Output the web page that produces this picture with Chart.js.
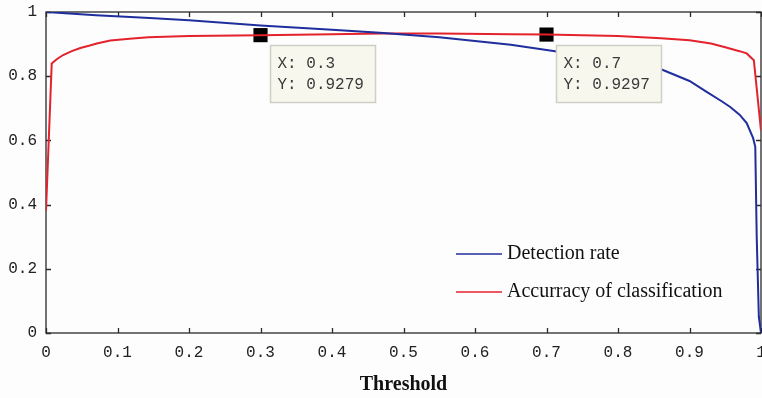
<!DOCTYPE html>
<html>
<head>
<meta charset="utf-8">
<script src="https://cdn.jsdelivr.net/npm/chart.js@4.4.1/dist/chart.umd.min.js"></script>
<style>
  html, body { margin: 0; padding: 0; background: #fdfdfd; }
  #chart { display: block; }
</style>
</head>
<body>
<canvas id="chart" width="762" height="398"></canvas>
<script>
// ---------------------------------------------------------------------------
// Data
// ---------------------------------------------------------------------------
const detectX = [0, 0.07, 0.145, 0.2, 0.3, 0.4, 0.467, 0.55, 0.65, 0.712, 0.76, 0.8, 0.862, 0.9, 0.924, 0.945, 0.957, 0.97, 0.98, 0.989, 0.992, 0.994, 0.997, 1];
const detectY = [1, 0.99, 0.981, 0.974, 0.958, 0.945, 0.935, 0.921, 0.898, 0.878, 0.862, 0.848, 0.82, 0.785, 0.751, 0.722, 0.704, 0.68, 0.654, 0.607, 0.58, 0.3, 0.05, 0];

const accX = [0, 0.008, 0.015, 0.024, 0.036, 0.048, 0.06, 0.071, 0.09, 0.117, 0.143, 0.2, 0.3, 0.4, 0.47, 0.55, 0.65, 0.7, 0.8, 0.86, 0.9, 0.93, 0.95, 0.97, 0.98, 0.99, 1];
const accY = [0.38, 0.84, 0.853, 0.866, 0.878, 0.888, 0.895, 0.902, 0.911, 0.917, 0.921, 0.925, 0.9279, 0.931, 0.933, 0.933, 0.931, 0.9297, 0.925, 0.918, 0.912, 0.902, 0.89, 0.878, 0.871, 0.85, 0.63];

// data tips (marked points on the accuracy curve)
const tipX = [0.3, 0.7];
const tipY = [0.9279, 0.9297];
const tipXLabels = ["0.3", "0.7"];
const tipYLabels = ["0.9279", "0.9297"];

const seriesNames = ["Detection rate", "Accurracy of classification"];

const xTickValues = [0, 0.1, 0.2, 0.3, 0.4, 0.5, 0.6, 0.7, 0.8, 0.9, 1];
const xTickLabels = ["0", "0.1", "0.2", "0.3", "0.4", "0.5", "0.6", "0.7", "0.8", "0.9", "1"];
const yTickValues = [0, 0.2, 0.4, 0.6, 0.8, 1];
const yTickLabels = ["0", "0.2", "0.4", "0.6", "0.8", "1"];

const BLUE = "#1f2e9c";
const RED = "#e3222c";
const AXIS = "#2a2a2a";
const MONO = "'Liberation Mono', 'DejaVu Sans Mono', monospace";
const SERIF = "'Liberation Serif', 'DejaVu Serif', serif";

function toPoints(xs, ys) {
  return xs.map((x, i) => ({ x: x, y: ys[i] }));
}

// ---------------------------------------------------------------------------
// Box + inward ticks (MATLAB style), drawn under the lines
// ---------------------------------------------------------------------------
const boxPlugin = {
  id: "box",
  beforeDatasetsDraw(chart) {
    const { ctx, chartArea: a, scales } = chart;
    ctx.save();
    ctx.strokeStyle = AXIS;
    ctx.lineWidth = 1.3;
    ctx.strokeRect(a.left, a.top, a.right - a.left, a.bottom - a.top);
    const len = 5;
    ctx.beginPath();
    xTickValues.forEach((v) => {
      const px = Math.round(scales.x.getPixelForValue(v)) + 0.5;
      ctx.moveTo(px, a.bottom); ctx.lineTo(px, a.bottom - len);
      ctx.moveTo(px, a.top); ctx.lineTo(px, a.top + len);
    });
    yTickValues.forEach((v) => {
      const py = Math.round(scales.y.getPixelForValue(v)) + 0.5;
      ctx.moveTo(a.left, py); ctx.lineTo(a.left + len, py);
      ctx.moveTo(a.right, py); ctx.lineTo(a.right - len, py);
    });
    ctx.stroke();
    ctx.restore();
  },
};

// ---------------------------------------------------------------------------
// Data tip boxes, legend and x-axis title
// ---------------------------------------------------------------------------
const overlayPlugin = {
  id: "overlay",
  afterDraw(chart) {
    const { ctx, scales } = chart;
    ctx.save();

    // data tips
    tipX.forEach((v, i) => {
      const px = scales.x.getPixelForValue(v);
      const py = scales.y.getPixelForValue(tipY[i]);
      const bx = Math.round(px + 9) + 0.5;
      const by = Math.round(py + 10) + 0.5;
      ctx.fillStyle = "#f7f7ee";
      ctx.strokeStyle = "#cfcfc6";
      ctx.lineWidth = 1.5;
      ctx.fillRect(bx, by, 105, 57);
      ctx.strokeRect(bx, by, 105, 57);
      ctx.fillStyle = "#3a3a3a";
      ctx.font = "16px " + MONO;
      ctx.textBaseline = "middle";
      ctx.textAlign = "left";
      ctx.fillText("X: " + tipXLabels[i], bx + 7, by + 18);
      ctx.fillText("Y: " + tipYLabels[i], bx + 7, by + 39);
    });

    // legend (inside the plot, lower right)
    const colors = [BLUE, RED];
    const legX = 456, legY = [254, 292];
    ctx.font = "20px " + SERIF;
    ctx.textBaseline = "middle";
    seriesNames.forEach((name, i) => {
      ctx.strokeStyle = colors[i];
      ctx.lineWidth = 1.5;
      ctx.beginPath();
      ctx.moveTo(legX, legY[i]);
      ctx.lineTo(legX + 46, legY[i]);
      ctx.stroke();
      ctx.fillStyle = "#111";
      ctx.fillText(name, legX + 51, legY[i]);
    });

    // x-axis title
    ctx.font = "bold 20px " + SERIF;
    ctx.textAlign = "center";
    ctx.fillStyle = "#111";
    ctx.fillText("Threshold", (chart.chartArea.left + chart.chartArea.right) / 2, 385);
    ctx.restore();
  },
};

new Chart(document.getElementById("chart"), {
  type: "line",
  data: {
    datasets: [
      {
        label: seriesNames[0],
        data: toPoints(detectX, detectY),
        borderColor: BLUE,
        borderWidth: 2,
        pointRadius: 0,
        tension: 0,
      },
      {
        label: seriesNames[1],
        data: toPoints(accX, accY),
        borderColor: RED,
        borderWidth: 2,
        pointRadius: 0,
        tension: 0,
      },
      {
        label: "tips",
        type: "scatter",
        data: toPoints(tipX, tipY),
        pointStyle: "rect",
        pointRadius: 10,
        backgroundColor: "#000",
        borderColor: "#000",
        borderWidth: 0,
        showLine: false,
      },
    ],
  },
  options: {
    responsive: false,
    animation: false,
    devicePixelRatio: 1,
    layout: { autoPadding: false, padding: { top: 12, right: 1, left: 0, bottom: 0 } },
    plugins: { legend: { display: false }, tooltip: { enabled: false } },
    scales: {
      x: {
        type: "linear",
        min: 0,
        max: 1,
        afterBuildTicks: (s) => { s.ticks = xTickValues.map((v) => ({ value: v })); },
        afterFit: (s) => { s.height = 65; s.paddingLeft = 0; s.paddingRight = 0; },
        grid: { display: false, drawTicks: false },
        border: { display: false },
        ticks: {
          padding: 10,
          color: "#222",
          font: { family: MONO, size: 16 },
          maxRotation: 0,
          autoSkip: false,
          callback: (v, i) => xTickLabels[i],
        },
      },
      y: {
        type: "linear",
        min: 0,
        max: 1,
        afterBuildTicks: (s) => { s.ticks = yTickValues.map((v) => ({ value: v })); },
        afterFit: (s) => { s.width = 46; s.paddingTop = 0; s.paddingBottom = 0; },
        grid: { display: false, drawTicks: false },
        border: { display: false },
        ticks: {
          padding: 9,
          color: "#222",
          font: { family: MONO, size: 16 },
          autoSkip: false,
          callback: (v, i) => yTickLabels[i],
        },
      },
    },
  },
  plugins: [boxPlugin, overlayPlugin],
});
</script>
</body>
</html>
